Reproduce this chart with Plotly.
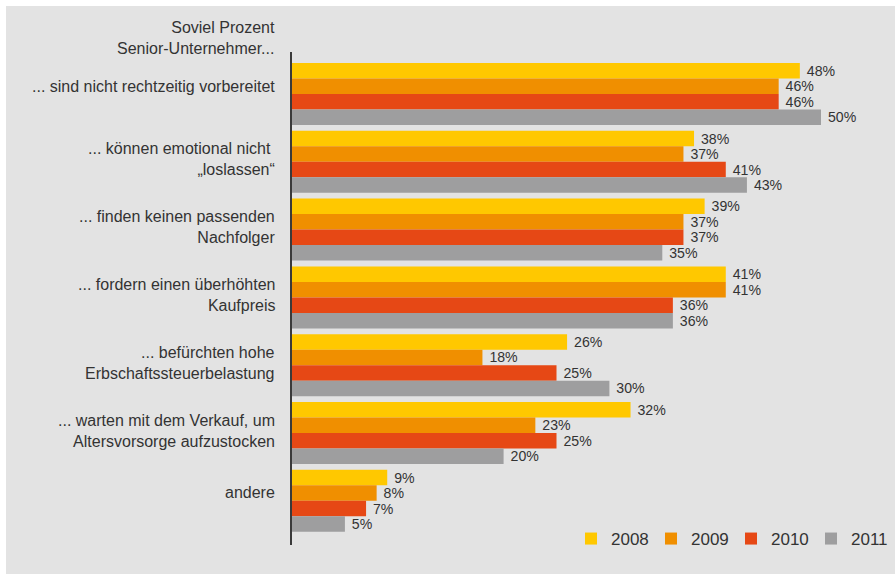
import plotly.graph_objects as go

# Survey categories (top to bottom) and yearly shares in percent
categories = [
    "... sind nicht rechtzeitig vorbereitet",
    "... können emotional nicht\u00a0<br>„loslassen“",
    "... finden keinen passenden<br>Nachfolger",
    "... fordern einen überhöhten<br>Kaufpreis",
    "... befürchten hohe<br>Erbschaftssteuerbelastung",
    "... warten mit dem Verkauf, um<br>Altersvorsorge aufzustocken",
    "andere",
]
years = ["2008", "2009", "2010", "2011"]
values_2008 = [48, 38, 39, 41, 26, 32, 9]
values_2009 = [46, 37, 37, 41, 18, 23, 8]
values_2010 = [46, 41, 37, 36, 25, 25, 7]
values_2011 = [50, 43, 35, 36, 30, 20, 5]
header = "Soviel Prozent<br>Senior-Unternehmer..."

series = [values_2008, values_2009, values_2010, values_2011]
colors = ["#ffc800", "#f08f00", "#e64815", "#9e9e9f"]

W, H = 895, 574
ML, MR, MT, MB = 292, 20, 52, 29
PW = W - ML - MR
PH = H - MT - MB
PX_PER_PCT = 10.58
FONT = "Liberation Sans, Arial, sans-serif"
TXT = "#333333"
BG = "#e3e3e3"

positions = list(range(len(categories)))

fig = go.Figure()
for year, vals, col in zip(years, series, colors):
    fig.add_trace(go.Bar(
        y=positions,
        x=vals,
        orientation="h",
        name=year,
        marker=dict(color=col, line=dict(width=0)),
        text=[f"\u00a0{v}%" for v in vals],
        textposition="outside",
        textfont=dict(family=FONT, size=15.5, color=TXT),
        cliponaxis=False,
    ))


def px_x(p):
    return (p - ML) / PW


def px_y(p):
    return (H - MB - p) / PH


# category labels, right-aligned left of the axis
annotations = []
for i, lab in enumerate(categories):
    annotations.append(dict(
        xref="paper", yref="y", x=0, y=i,
        xanchor="right", yanchor="middle", xshift=-15,
        yshift=8 if "<br>" not in lab else 2.5,
        text=lab, align="right", showarrow=False,
        font=dict(family=FONT, size=16, color=TXT),
    ))
annotations.append(dict(
    xref="paper", yref="paper", x=0, y=px_y(37.5),
    xanchor="right", yanchor="middle", xshift=-15,
    text=header, align="right", showarrow=False,
    font=dict(family=FONT, size=16, color=TXT),
))

# white frame strips along the top and left edge
shapes = [
    dict(type="rect", xref="paper", yref="paper", layer="below",
         x0=px_x(0), x1=px_x(W), y0=px_y(6), y1=px_y(0),
         fillcolor="white", line=dict(width=0)),
    dict(type="rect", xref="paper", yref="paper", layer="below",
         x0=px_x(0), x1=px_x(6), y0=px_y(H), y1=px_y(0),
         fillcolor="white", line=dict(width=0)),
]

cat_px = 67.8
span = PH / cat_px
top = -42 / cat_px

fig.update_layout(
    width=W, height=H,
    margin=dict(l=ML, r=MR, t=MT, b=MB, pad=0, autoexpand=False),
    paper_bgcolor=BG, plot_bgcolor=BG,
    barmode="group", bargap=1 - 62 / cat_px, bargroupgap=0,
    showlegend=True,
    legend=dict(
        orientation="h", x=px_x(571), xanchor="left",
        y=px_y(539), yanchor="middle",
        font=dict(family=FONT, size=17, color=TXT),
        bgcolor="rgba(0,0,0,0)", traceorder="normal",
        entrywidth=35,
    ),
    xaxis=dict(range=[0, PW / PX_PER_PCT], visible=False, fixedrange=True),
    yaxis=dict(
        range=[top + span, top], showticklabels=False, ticks="",
        showgrid=False, zeroline=False,
        showline=True, linecolor="#3a3a3a", linewidth=1.5,
    ),
    annotations=annotations,
    shapes=shapes,
)

fig.write_html("out.html")
